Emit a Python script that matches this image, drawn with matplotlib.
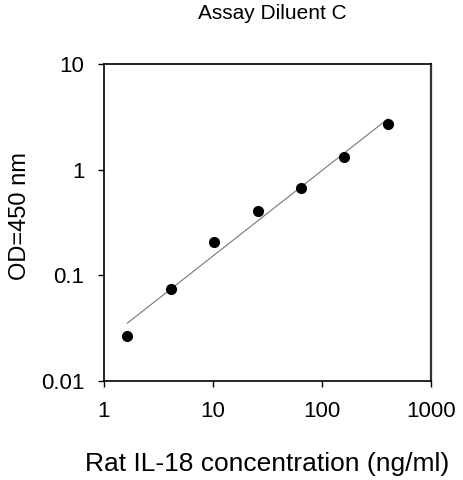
import numpy as np
import matplotlib
matplotlib.use("Agg")
import matplotlib.pyplot as plt
from matplotlib.ticker import FixedLocator, FixedFormatter, NullLocator

plt.rcParams['font.family'] = ['Liberation Sans', 'DejaVu Sans']

# standard curve points
conc = [1.64, 4.1, 10.2, 25.6, 64, 160, 400]
od = [0.0265, 0.075, 0.207, 0.407, 0.668, 1.31, 2.68]
xticks = [1, 10, 100, 1000]
xtick_labels = ['1', '10', '100', '1000']
yticks = [0.01, 0.1, 1, 10]
ytick_labels = ['0.01', '0.1', '1', '10']

fig = plt.figure(figsize=(4.63, 4.80), dpi=100)
ax = fig.add_axes([0.2246, 0.206, 0.7064, 0.661])

# log-log fit line across data range
lx = np.log10(conc)
ly = np.log10(od)
slope, icpt = np.polyfit(lx, ly, 1)
fx = np.array([conc[0], conc[-1]])
fy = 10 ** (icpt + slope * np.log10(fx))
ax.plot(fx, fy, color='#777777', lw=0.8, zorder=2)
ax.plot(conc, od, 'o', color='black', ms=7, zorder=3)

ax.set_xscale('log')
ax.set_yscale('log')
ax.set_xlim(1, 1000)
ax.set_ylim(0.01, 10)
ax.xaxis.set_major_locator(FixedLocator(xticks))
ax.xaxis.set_major_formatter(FixedFormatter(xtick_labels))
ax.yaxis.set_major_locator(FixedLocator(yticks))
ax.yaxis.set_major_formatter(FixedFormatter(ytick_labels))
ax.xaxis.set_minor_locator(NullLocator())
ax.yaxis.set_minor_locator(NullLocator())
ax.tick_params(axis='both', direction='out', length=4, width=1, labelsize=16, colors='black')
ax.tick_params(axis='x', pad=10)
ax.tick_params(axis='y', pad=10)

for s in ['left', 'bottom', 'top']:
    ax.spines[s].set_linewidth(1.2)
ax.spines['right'].set_linewidth(1.6)
ax.spines['right'].set_color('#333333')

ax.set_xlabel('Rat IL-18 concentration (ng/ml)', fontsize=19, labelpad=22)
ax.set_ylabel('OD=450 nm', fontsize=17)
ax.yaxis.set_label_coords(-0.222, 0.52)
fig.text(0.589, 0.971, 'Assay Diluent C', ha='center', va='center', fontsize=15)

fig.savefig('out.png', dpi=100)
